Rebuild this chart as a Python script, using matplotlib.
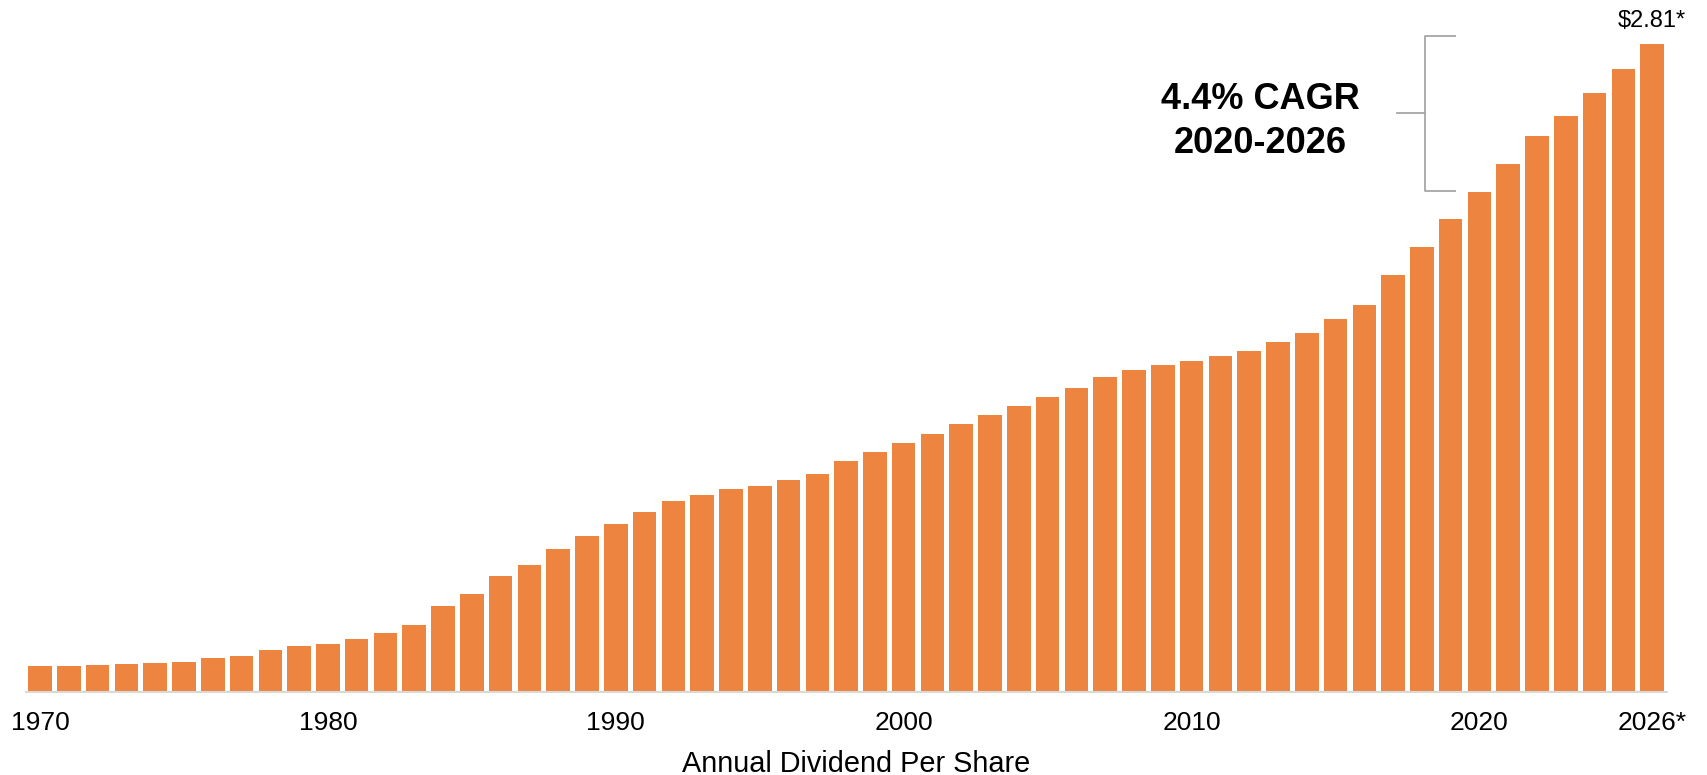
import matplotlib.pyplot as plt
import numpy as np

plt.rcParams['font.family'] = ['Liberation Sans', 'DejaVu Sans']

# annual dividend per share, 1970 - 2026 (2026 estimated)
years = list(range(1970, 2027))
dividends = [
    0.114, 0.114, 0.118, 0.123, 0.127, 0.130, 0.147, 0.157, 0.182, 0.198,  # 1970s
    0.209, 0.231, 0.257, 0.290, 0.371, 0.426, 0.505, 0.551, 0.621, 0.676,  # 1980s
    0.728, 0.781, 0.826, 0.853, 0.879, 0.892, 0.920, 0.947, 1.000, 1.039,  # 1990s
    1.080, 1.120, 1.161, 1.201, 1.242, 1.278, 1.320, 1.366, 1.396, 1.418,  # 2000s
    1.437, 1.458, 1.478, 1.518, 1.557, 1.619, 1.677, 1.809, 1.929, 2.049,  # 2010s
    2.168, 2.288, 2.410, 2.498, 2.598, 2.701, 2.810,                       # 2020s
]
tick_years = [1970, 1980, 1990, 2000, 2010, 2020, 2026]
tick_labels = ["1970", "1980", "1990", "2000", "2010", "2020", "2026*"]

orange = "#ED8440"
grey = "#A6A6A6"

W, H = 1707, 775
fig = plt.figure(figsize=(W / 100, H / 100), dpi=100)
ax = fig.add_axes([25.6 / W, 83 / H, 1641 / W, 692 / H])

x = np.arange(len(years))
ax.bar(x, dividends, width=0.82, color=orange)

ax.set_xlim(-0.5, len(years) - 0.5)
ax.set_ylim(0, 3.0)

ax.set_xticks([years.index(y) for y in tick_years])
ax.set_xticklabels(tick_labels, fontsize=19)
ax.tick_params(axis="x", length=0, pad=14)
ax.set_yticks([])
for s in ["top", "left", "right"]:
    ax.spines[s].set_visible(False)
ax.spines["bottom"].set_color("#D9D9D9")
ax.spines["bottom"].set_linewidth(1.5)

# value on the last bar
ax.annotate("$%.2f*" % dividends[-1], (x[-1], dividends[-1]),
            xytext=(0, 12), textcoords="offset points",
            ha="center", va="baseline", fontsize=17)

# CAGR bracket from 2020 to 2026
i20 = years.index(2020)
y_lo = dividends[i20] + 0.005
y_hi = dividends[-1] + 0.035
y_mid = (y_lo + y_hi) / 2
bx = i20 - 1.9
ax.plot([bx + 1.08, bx, bx, bx + 1.08], [y_lo, y_lo, y_hi, y_hi],
        color=grey, lw=1.3, solid_capstyle="butt")
ax.plot([bx - 0.95, bx], [y_mid, y_mid], color=grey, lw=1.3)

fig.text(1260 / W, 1 - 109 / H, "4.4% CAGR", ha="center", va="baseline",
         fontsize=26, fontweight="bold")
fig.text(1260 / W, 1 - 153 / H, "2020-2026", ha="center", va="baseline",
         fontsize=26, fontweight="bold")

fig.text(856 / W, 3.3 / H, "Annual Dividend Per Share", ha="center",
         va="baseline", fontsize=20.8)

fig.savefig("out.png", dpi=100)
